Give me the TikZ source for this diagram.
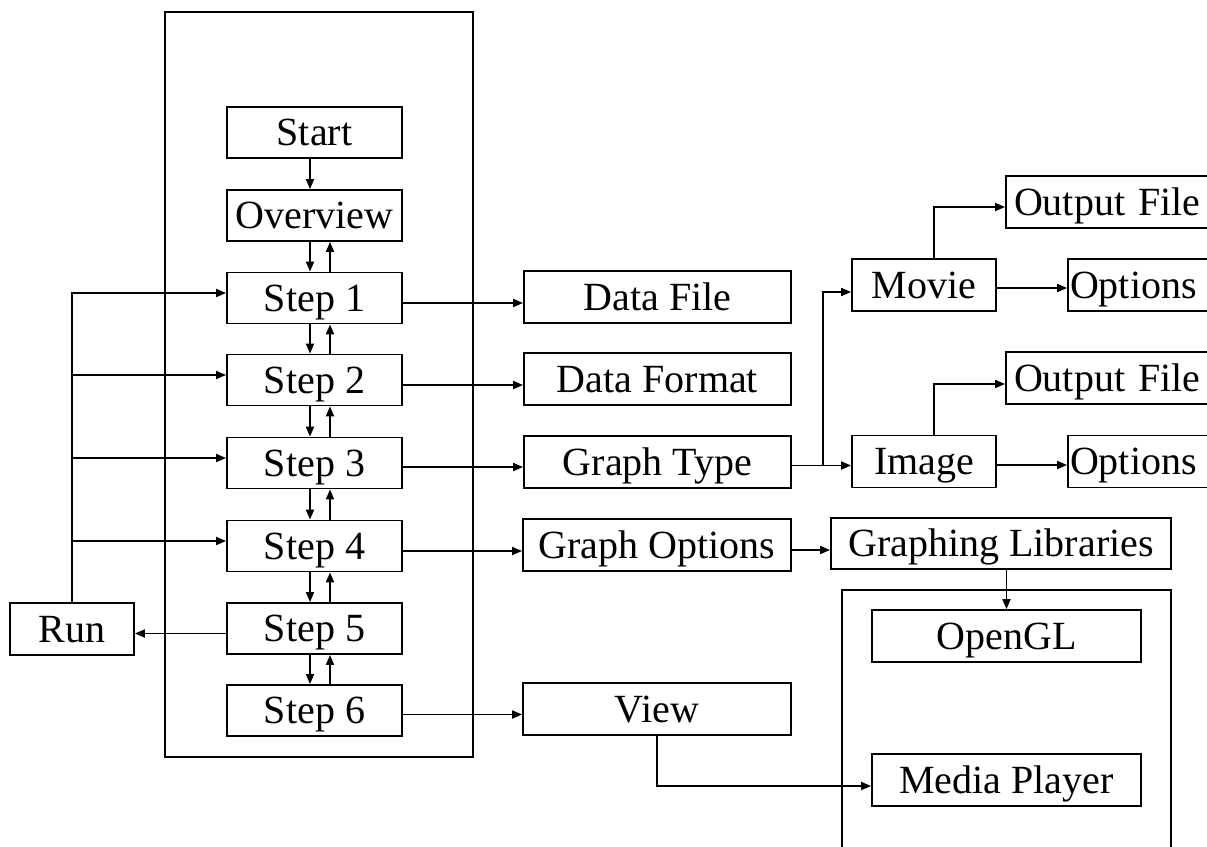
\documentclass[tikz,border=0pt]{standalone}
\usepackage{fontspec}
\setmainfont{Liberation Serif}
\usetikzlibrary{arrows.meta}
\begin{document}
\begin{tikzpicture}[x=1pt,y=-1pt,
  line width=1.8pt,
  >={Triangle[length=10pt,width=8pt]},
  box/.style={draw, rectangle, inner sep=0pt, minimum height=51pt,
    text height=31pt, text depth=5pt,
    font=\fontsize{40}{48}\selectfont},
  frame/.style={draw, line width=1.8pt}
]
\clip (0,0) rectangle (1207,846);
\fill[white] (0,0) rectangle (1207,846);

% outer frames
\draw[frame] (165,12) rectangle (473,757);
\draw[frame] (842,860) -- (842,590) -- (1171,590) -- (1171,860);

% left column
\node[box, minimum width=175pt] (start) at (314.5,132.5) {Start};
\node[box, minimum width=175pt] (ov) at (314.5,215.5) {Overview};
\node[box, minimum width=175pt] (s1) at (314.5,298) {Step 1};
\node[box, minimum width=175pt] (s2) at (314.5,380) {Step 2};
\node[box, minimum width=175pt] (s3) at (314.5,463) {Step 3};
\node[box, minimum width=175pt] (s4) at (314.5,546) {Step 4};
\node[box, minimum width=175pt] (s5) at (314.5,628.5) {Step 5};
\node[box, minimum width=175pt] (s6) at (314.5,710.5) {Step 6};
\node[box, minimum width=124pt, minimum height=52pt] (run) at (72,629) {Run};

% middle column
\node[box, minimum width=267pt, minimum height=52pt] (df) at (657.5,297) {Data File};
\node[box, minimum width=267pt, minimum height=52pt] (dfmt) at (657.5,379) {Data Format};
\node[box, minimum width=267pt, minimum height=52pt] (gt) at (657.5,462) {Graph Type};
\node[box, minimum width=268pt, minimum height=52pt] (go) at (657,545) {Graph Options};
\node[box, minimum width=268pt, minimum height=52pt] (view) at (657,709) {View};

% right part
\node[box, minimum width=144pt, minimum height=52pt] (movie) at (924,285) {Movie};
\node[box, minimum width=144pt, minimum height=52pt] (img) at (924,461.5) {Image};
\node[box, minimum width=206pt, minimum height=52pt, text width=206pt, align=left] (of1) at (1109,202) {\hspace{8pt}Output File};
\node[box, minimum width=144pt, minimum height=52pt, text width=144pt, align=left] (op1) at (1140,285) {\hspace{2pt}Options};
\node[box, minimum width=206pt, minimum height=52pt, text width=206pt, align=left] (of2) at (1109,378) {\hspace{8pt}Output File};
\node[box, minimum width=144pt, minimum height=52pt, text width=144pt, align=left] (op2) at (1140,461.5) {\hspace{2pt}Options};
\node[box, minimum width=340pt] (gl) at (1001,543.5) {Graphing Libraries};
\node[box, minimum width=269pt, minimum height=52pt] (ogl) at (1006.5,636) {OpenGL};
\node[box, minimum width=269pt, minimum height=52pt] (mp) at (1006.5,780) {Media Player};

% vertical arrows in the left column
\draw[->] ([xshift=-4.5pt]start.south) -- ([xshift=-4.5pt]ov.north);
\foreach \a/\b in {ov/s1, s1/s2, s2/s3, s3/s4, s4/s5, s5/s6}{
  \draw[->] ([xshift=-4.5pt]\a.south) -- ([xshift=-4.5pt]\b.north);
  \draw[->] ([xshift=15.5pt]\b.north) -- ([xshift=15.5pt]\a.south);
}

% Run loop
\coordinate (l1) at ([yshift=5pt]s1.west);
\coordinate (l2) at ([yshift=5pt]s2.west);
\coordinate (l3) at ([yshift=5pt]s3.west);
\coordinate (l4) at ([yshift=5pt]s4.west);
\draw[->] (run.north) |- (l1);
\draw[->] (l2 -| run.north) -- (l2);
\draw[->] (l3 -| run.north) -- (l3);
\draw[->] (l4 -| run.north) -- (l4);
\coordinate (l5) at ([yshift=-5pt]s5.west);
\draw[->] (l5) -- (l5 -| run.east);

% steps to middle column
\coordinate (r1) at ([yshift=-5pt]s1.east);
\coordinate (r2) at ([yshift=-5pt]s2.east);
\coordinate (r3) at ([yshift=-4pt]s3.east);
\coordinate (r4) at ([yshift=-5pt]s4.east);
\coordinate (r6) at ([yshift=-4pt]s6.east);
\draw[->] (r1) -- (r1 -| df.west);
\draw[->] (r2) -- (r2 -| dfmt.west);
\draw[->] (r3) -- (r3 -| gt.west);
\draw[->] (r4) -- (r4 -| go.west);
\draw[->] (r6) -- (r6 -| view.west);

% graph type to movie / image
\coordinate (g) at ([yshift=-3.5pt]gt.east);
\coordinate (sp) at ([xshift=31pt]g);
\draw[->] (g) -- (g -| img.west);
\draw[->] (sp) |- ([yshift=-7pt]movie.west);

% movie / image to outputs
\draw[->] ([xshift=10pt]movie.north) |- ([yshift=-5pt]of1.west);
\draw[->] ([yshift=-3pt]movie.east) -- ([yshift=-3pt]op1.west);
\draw[->] ([xshift=10pt]img.north) |- ([yshift=-6pt]of2.west);
\draw[->] ([yshift=-3.5pt]img.east) -- ([yshift=-3.5pt]op2.west);

% graph options to libraries
\draw[->] ([yshift=-5pt]go.east) -- ([yshift=-5pt]go.east -| gl.west);
\draw[->] (ogl.north |- gl.south) -- (ogl.north);

% view to media player
\draw[->] (view.south) |- ([yshift=-6pt]mp.west);
\end{tikzpicture}
\end{document}
